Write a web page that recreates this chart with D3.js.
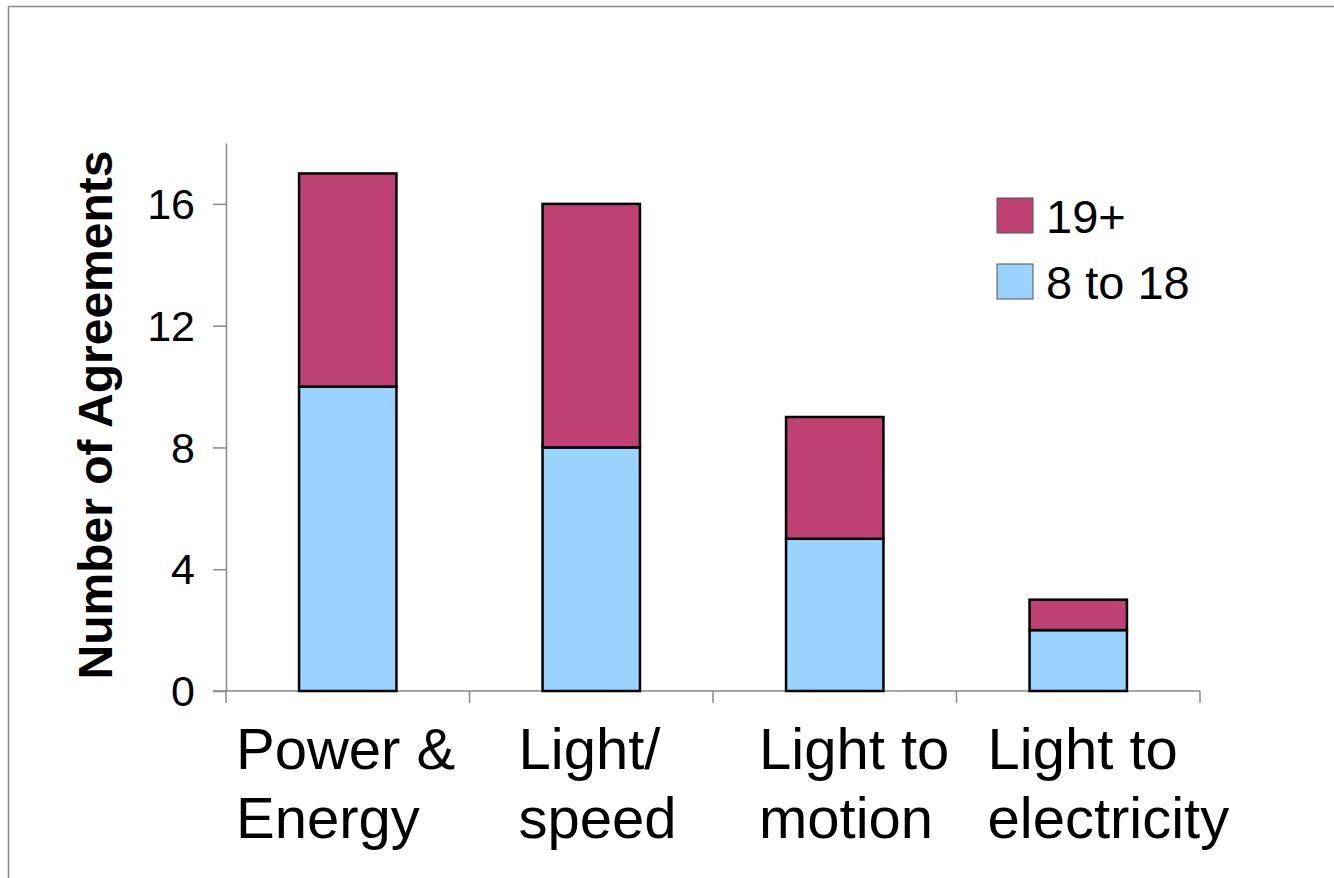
<!DOCTYPE html>
<html>
<head>
<meta charset="utf-8">
<script src="https://cdn.jsdelivr.net/npm/d3@7"></script>
<style>
  body { margin: 0; background: #fff; }
  text { font-family: "Liberation Sans", Arial, sans-serif; fill: #000; }
</style>
</head>
<body>
<svg id="chart" width="1334" height="878"></svg>
<script>
// chart data
var categories = [["Power &", "Energy"], ["Light/", "speed"], ["Light to", "motion"], ["Light to", "electricity"]];
var young = [10, 8, 5, 2];     // 8 to 18
var older = [7, 8, 4, 1];      // 19+
var yTicks = [0, 4, 8, 12, 16];
var seriesNames = ["19+", "8 to 18"];
var seriesColors = ["#BF4072", "#99D3FF"];

// left offset of each category label inside its band
var labelShift = [10, 49, 46, 31];

var svg = d3.select("#chart");

var border_left = 226, border_right = 1200, border_top = 143, axis_y = 691;

// frame around the picture (top and left edges only)
svg.append("path")
    .attr("d", "M8.5,878 L8.5,6.5 L1334,6.5")
    .attr("fill", "none")
    .attr("stroke", "#8a8a8a")
    .attr("stroke-width", 1.5);

var x = d3.scaleBand()
    .domain(d3.range(categories.length))
    .range([border_left, border_right])
    .paddingInner(0.6)
    .paddingOuter(0.3);

var xBand = d3.scaleBand()
    .domain(d3.range(categories.length))
    .range([border_left, border_right]);

var y = d3.scaleLinear()
    .domain([0, 18])
    .range([axis_y, border_top]);

// y axis
var yAxis = svg.append("g")
    .attr("transform", "translate(" + border_left + ",0)")
    .call(d3.axisLeft(y).tickValues(yTicks).tickSize(13).tickPadding(18).tickSizeOuter(0));
yAxis.selectAll("line, path").attr("stroke", "#8a8a8a").attr("stroke-width", 1.5);
yAxis.selectAll("text")
    .style("font-size", "43px")
    .style("font-family", "'Liberation Sans', Arial, sans-serif")
    .attr("dy", "0.34em");

// x axis with ticks between categories
var boundaries = d3.range(categories.length + 1).map(function(i) { return border_left + i * xBand.step(); });
svg.append("line")
    .attr("x1", border_left - 13).attr("x2", border_right)
    .attr("y1", axis_y).attr("y2", axis_y)
    .attr("stroke", "#8a8a8a").attr("stroke-width", 1.5);
svg.selectAll(".xtick")
    .data(boundaries)
    .enter().append("line")
    .attr("class", "xtick")
    .attr("x1", function(d) { return d; }).attr("x2", function(d) { return d; })
    .attr("y1", axis_y).attr("y2", axis_y + 12)
    .attr("stroke", "#8a8a8a").attr("stroke-width", 1.5);

// stacked bars
var stacks = categories.map(function(c, i) {
    return [
        { key: 1, i: i, y0: 0, y1: young[i] },
        { key: 0, i: i, y0: young[i], y1: young[i] + older[i] }
    ];
});

svg.selectAll(".barGroup")
    .data(stacks)
    .enter().append("g")
    .attr("class", "barGroup")
    .selectAll("rect")
    .data(function(d) { return d; })
    .enter().append("rect")
    .attr("x", function(d) { return x(d.i); })
    .attr("width", x.bandwidth())
    .attr("y", function(d) { return y(d.y1); })
    .attr("height", function(d) { return y(d.y0) - y(d.y1); })
    .attr("fill", function(d) { return seriesColors[d.key]; })
    .attr("stroke", "#000")
    .attr("stroke-width", 2.5);

// category labels, two lines each
var catText = svg.selectAll(".catLabel")
    .data(categories)
    .enter().append("text")
    .attr("class", "catLabel")
    .style("font-size", "58px");

catText.selectAll("tspan")
    .data(function(d, i) { return d.map(function(line) { return { line: line, i: i }; }); })
    .enter().append("tspan")
    .attr("x", function(d) { return xBand(d.i) + labelShift[d.i]; })
    .attr("y", function(d, k) { return 769 + k * 69; })
    .text(function(d) { return d.line; });

// y axis title
svg.append("text")
    .attr("transform", "translate(112,415) rotate(-90)")
    .attr("text-anchor", "middle")
    .style("font-size", "48px")
    .style("font-weight", "bold")
    .text("Number of Agreements");

// legend
var legend = svg.selectAll(".legendItem")
    .data(seriesNames)
    .enter().append("g")
    .attr("class", "legendItem")
    .attr("transform", function(d, i) { return "translate(997," + (198 + i * 66) + ")"; });

legend.append("rect")
    .attr("width", 36).attr("height", 35)
    .attr("fill", function(d, i) { return seriesColors[i]; })
    .attr("stroke", "#555")
    .attr("stroke-width", 1);

legend.append("text")
    .attr("x", 49).attr("y", 35)
    .style("font-size", "47px")
    .text(function(d) { return d; });
</script>
</body>
</html>
